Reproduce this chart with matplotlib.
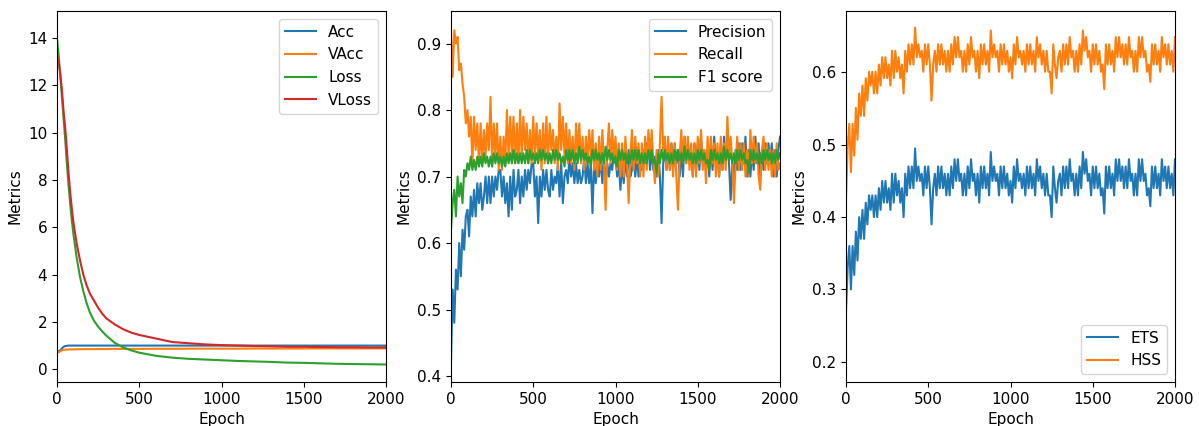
import numpy as np
import matplotlib.pyplot as plt

plt.rcParams['font.size'] = 11

# ---- panel 1: accuracy / loss ----
loss_epochs = [0, 10, 20, 30, 40, 50, 60, 70, 80, 90, 100, 120, 140, 160, 180, 200,
               225, 250, 275, 300, 350, 400, 450, 500, 600, 700, 800, 900, 1000,
               1100, 1200, 1300, 1400, 1500, 1600, 1700, 1800, 1900, 2000]
acc = [0.75, 0.76, 0.80, 0.88, 0.95, 0.98, 0.99, 1.0, 1.0, 1.0, 1.0, 1.0, 1.0, 1.0, 1.0, 1.0,
       1.0, 1.0, 1.0, 1.0, 1.0, 1.0, 1.0, 1.0, 1.0, 1.0, 1.0, 1.0, 1.0,
       1.0, 1.0, 1.0, 1.0, 1.0, 1.0, 1.0, 1.0, 1.0, 1.0]
vacc = [0.70, 0.72, 0.76, 0.80, 0.82, 0.83, 0.83, 0.835, 0.84, 0.84, 0.84, 0.845, 0.845, 0.85, 0.85, 0.85,
        0.85, 0.855, 0.855, 0.855, 0.86, 0.86, 0.86, 0.86, 0.865, 0.865, 0.87, 0.87, 0.87,
        0.87, 0.875, 0.875, 0.875, 0.875, 0.88, 0.88, 0.88, 0.88, 0.88]
loss = [14.0, 13.3, 12.4, 11.5, 10.6, 9.7, 8.7, 7.8, 7.0, 6.3, 5.7, 4.7, 3.9, 3.3, 2.8, 2.4,
        2.05, 1.8, 1.6, 1.42, 1.12, 0.93, 0.80, 0.70, 0.57, 0.49, 0.44, 0.41, 0.38,
        0.35, 0.33, 0.31, 0.28, 0.27, 0.25, 0.23, 0.22, 0.21, 0.20]
vloss = [13.3, 13.0, 12.5, 11.8, 10.9, 10.2, 9.3, 8.3, 7.5, 6.8, 6.2, 5.3, 4.6, 4.0, 3.55, 3.2,
         2.9, 2.6, 2.35, 2.15, 1.9, 1.7, 1.55, 1.45, 1.3, 1.15, 1.1, 1.05, 1.02,
         1.0, 0.98, 0.97, 0.95, 0.95, 0.94, 0.93, 0.93, 0.92, 0.92]

# ---- panel 2 / 3: noisy metrics, read every 10 epochs ----
epochs = np.arange(0, 2001, 10)
precision = [
    0.42, 0.53, 0.48, 0.56, 0.53, 0.60, 0.55, 0.62, 0.59, 0.64,
    0.65, 0.61, 0.67, 0.64, 0.68, 0.64, 0.69, 0.66, 0.69, 0.65,
    0.67, 0.70, 0.66, 0.70, 0.66, 0.70, 0.67, 0.70, 0.68, 0.71,
    0.71, 0.67, 0.70, 0.66, 0.69, 0.64, 0.70, 0.65, 0.71, 0.67,
    0.68, 0.71, 0.66, 0.70, 0.67, 0.71, 0.68, 0.71, 0.69, 0.72,
    0.72, 0.67, 0.70, 0.63, 0.70, 0.67, 0.71, 0.68, 0.71, 0.68,
    0.67, 0.71, 0.68, 0.70, 0.69, 0.72, 0.67, 0.72, 0.66, 0.70,
    0.71, 0.69, 0.73, 0.70, 0.72, 0.69, 0.72, 0.69, 0.71, 0.69,
    0.70, 0.73, 0.69, 0.72, 0.69, 0.72, 0.645, 0.72, 0.69, 0.72,
    0.70, 0.73, 0.69, 0.73, 0.69, 0.72, 0.70, 0.72, 0.71, 0.74,
    0.73, 0.70, 0.72, 0.68, 0.72, 0.69, 0.73, 0.70, 0.74, 0.70,
    0.71, 0.74, 0.70, 0.73, 0.70, 0.73, 0.71, 0.74, 0.72, 0.75,
    0.75, 0.71, 0.74, 0.71, 0.73, 0.70, 0.74, 0.70, 0.63, 0.72,
    0.74, 0.71, 0.75, 0.71, 0.75, 0.71, 0.75, 0.72, 0.74, 0.70,
    0.74, 0.70, 0.76, 0.72, 0.75, 0.72, 0.74, 0.70, 0.75, 0.71,
    0.75, 0.71, 0.76, 0.72, 0.74, 0.71, 0.74, 0.70, 0.75, 0.71,
    0.76, 0.72, 0.73, 0.70, 0.75, 0.71, 0.76, 0.72, 0.75, 0.72,
    0.665, 0.72, 0.70, 0.74, 0.71, 0.75, 0.71, 0.75, 0.72, 0.76,
    0.70, 0.74, 0.70, 0.74, 0.71, 0.76, 0.72, 0.75, 0.70, 0.74,
    0.71, 0.75, 0.72, 0.75, 0.72, 0.75, 0.70, 0.74, 0.70, 0.74,
    0.76]
recall = [
    0.92, 0.85, 0.92, 0.90, 0.91, 0.86, 0.87, 0.84, 0.82, 0.78,
    0.80, 0.76, 0.79, 0.72, 0.79, 0.74, 0.78, 0.72, 0.78, 0.72,
    0.77, 0.73, 0.78, 0.74, 0.82, 0.72, 0.78, 0.73, 0.78, 0.71,
    0.76, 0.71, 0.76, 0.72, 0.80, 0.73, 0.79, 0.73, 0.79, 0.72,
    0.78, 0.72, 0.80, 0.73, 0.79, 0.74, 0.78, 0.72, 0.77, 0.72,
    0.79, 0.73, 0.78, 0.73, 0.77, 0.71, 0.78, 0.72, 0.79, 0.72,
    0.78, 0.74, 0.77, 0.72, 0.76, 0.71, 0.81, 0.74, 0.79, 0.73,
    0.78, 0.72, 0.77, 0.72, 0.76, 0.71, 0.78, 0.73, 0.78, 0.72,
    0.76, 0.71, 0.76, 0.72, 0.77, 0.73, 0.77, 0.71, 0.75, 0.70,
    0.76, 0.71, 0.77, 0.72, 0.65, 0.74, 0.78, 0.72, 0.77, 0.73,
    0.76, 0.71, 0.75, 0.70, 0.75, 0.70, 0.76, 0.72, 0.66, 0.73,
    0.77, 0.71, 0.76, 0.72, 0.75, 0.70, 0.75, 0.70, 0.76, 0.71,
    0.77, 0.73, 0.77, 0.72, 0.69, 0.74, 0.70, 0.75, 0.82, 0.74,
    0.76, 0.71, 0.76, 0.71, 0.75, 0.70, 0.75, 0.70, 0.65, 0.73,
    0.77, 0.72, 0.76, 0.72, 0.76, 0.71, 0.75, 0.70, 0.75, 0.70,
    0.76, 0.72, 0.77, 0.71, 0.74, 0.69, 0.76, 0.71, 0.76, 0.72,
    0.75, 0.70, 0.75, 0.70, 0.76, 0.71, 0.75, 0.71, 0.79, 0.73,
    0.76, 0.72, 0.66, 0.72, 0.76, 0.71, 0.75, 0.71, 0.75, 0.70,
    0.74, 0.70, 0.77, 0.72, 0.76, 0.72, 0.75, 0.70, 0.68, 0.74,
    0.76, 0.71, 0.75, 0.71, 0.74, 0.70, 0.74, 0.70, 0.75, 0.71,
    0.72]
f1 = [
    0.62, 0.66, 0.68, 0.64, 0.70, 0.67, 0.69, 0.66, 0.71, 0.70,
    0.72, 0.71, 0.73, 0.71, 0.725, 0.71, 0.73, 0.715, 0.73, 0.715,
    0.735, 0.72, 0.73, 0.715, 0.73, 0.715, 0.735, 0.72, 0.735, 0.72,
    0.73, 0.715, 0.73, 0.715, 0.735, 0.72, 0.735, 0.72, 0.74, 0.72,
    0.735, 0.72, 0.735, 0.72, 0.735, 0.72, 0.74, 0.72, 0.74, 0.725,
    0.735, 0.72, 0.735, 0.72, 0.74, 0.725, 0.74, 0.725, 0.735, 0.72,
    0.735, 0.72, 0.74, 0.725, 0.74, 0.725, 0.735, 0.72, 0.73, 0.715,
    0.74, 0.725, 0.74, 0.725, 0.74, 0.72, 0.735, 0.72, 0.745, 0.725,
    0.74, 0.725, 0.735, 0.72, 0.73, 0.715, 0.74, 0.725, 0.74, 0.725,
    0.735, 0.72, 0.735, 0.72, 0.745, 0.725, 0.74, 0.725, 0.735, 0.72,
    0.73, 0.715, 0.74, 0.725, 0.74, 0.725, 0.735, 0.72, 0.735, 0.72,
    0.74, 0.725, 0.74, 0.725, 0.74, 0.72, 0.735, 0.72, 0.735, 0.72,
    0.74, 0.725, 0.74, 0.72, 0.725, 0.705, 0.735, 0.72, 0.74, 0.725,
    0.74, 0.725, 0.735, 0.72, 0.735, 0.72, 0.74, 0.725, 0.74, 0.725,
    0.735, 0.72, 0.745, 0.725, 0.74, 0.725, 0.735, 0.72, 0.735, 0.72,
    0.74, 0.725, 0.74, 0.725, 0.735, 0.72, 0.725, 0.71, 0.74, 0.725,
    0.74, 0.725, 0.735, 0.72, 0.735, 0.72, 0.745, 0.725, 0.74, 0.725,
    0.735, 0.72, 0.735, 0.72, 0.74, 0.725, 0.74, 0.725, 0.735, 0.72,
    0.725, 0.705, 0.74, 0.725, 0.74, 0.725, 0.735, 0.72, 0.735, 0.72,
    0.74, 0.725, 0.74, 0.725, 0.735, 0.72, 0.735, 0.72, 0.74, 0.725,
    0.735]
ets = [
    0.27, 0.33, 0.36, 0.30, 0.36, 0.32, 0.38, 0.34, 0.40, 0.37,
    0.41, 0.37, 0.42, 0.39, 0.43, 0.41, 0.43, 0.40, 0.43, 0.40,
    0.44, 0.41, 0.45, 0.42, 0.45, 0.42, 0.44, 0.41, 0.46, 0.42,
    0.46, 0.43, 0.45, 0.42, 0.44, 0.40, 0.46, 0.43, 0.47, 0.44,
    0.47, 0.44, 0.495, 0.45, 0.47, 0.45, 0.46, 0.43, 0.47, 0.44,
    0.47, 0.44, 0.39, 0.44, 0.46, 0.43, 0.47, 0.44, 0.47, 0.44,
    0.46, 0.43, 0.46, 0.43, 0.47, 0.44, 0.48, 0.45, 0.48, 0.45,
    0.46, 0.43, 0.46, 0.43, 0.47, 0.44, 0.48, 0.45, 0.46, 0.43,
    0.46, 0.42, 0.47, 0.44, 0.47, 0.44, 0.46, 0.43, 0.49, 0.45,
    0.47, 0.45, 0.46, 0.43, 0.47, 0.44, 0.47, 0.44, 0.46, 0.43,
    0.45, 0.42, 0.47, 0.44, 0.48, 0.45, 0.46, 0.44, 0.46, 0.43,
    0.47, 0.44, 0.47, 0.44, 0.46, 0.43, 0.48, 0.45, 0.47, 0.44,
    0.46, 0.43, 0.46, 0.43, 0.43, 0.40, 0.47, 0.44, 0.42, 0.45,
    0.46, 0.43, 0.47, 0.44, 0.47, 0.44, 0.48, 0.45, 0.46, 0.43,
    0.46, 0.43, 0.47, 0.44, 0.49, 0.46, 0.48, 0.45, 0.46, 0.43,
    0.47, 0.44, 0.47, 0.44, 0.46, 0.43, 0.44, 0.405, 0.47, 0.44,
    0.47, 0.44, 0.46, 0.43, 0.48, 0.45, 0.48, 0.45, 0.47, 0.44,
    0.47, 0.44, 0.48, 0.45, 0.46, 0.43, 0.46, 0.43, 0.48, 0.45,
    0.48, 0.45, 0.46, 0.43, 0.44, 0.415, 0.47, 0.44, 0.47, 0.44,
    0.46, 0.43, 0.48, 0.45, 0.47, 0.44, 0.47, 0.44, 0.46, 0.43,
    0.48]
hss = [
    0.425, 0.496, 0.529, 0.462, 0.529, 0.485, 0.551, 0.507, 0.571, 0.540,
    0.582, 0.540, 0.592, 0.561, 0.601, 0.582, 0.601, 0.571, 0.601, 0.571,
    0.611, 0.582, 0.621, 0.592, 0.621, 0.592, 0.611, 0.582, 0.630, 0.592,
    0.630, 0.601, 0.621, 0.592, 0.611, 0.571, 0.630, 0.601, 0.639, 0.611,
    0.639, 0.611, 0.662, 0.621, 0.639, 0.621, 0.630, 0.601, 0.639, 0.611,
    0.639, 0.611, 0.561, 0.611, 0.630, 0.601, 0.639, 0.611, 0.639, 0.611,
    0.630, 0.601, 0.630, 0.601, 0.639, 0.611, 0.649, 0.621, 0.649, 0.621,
    0.630, 0.601, 0.630, 0.601, 0.639, 0.611, 0.649, 0.621, 0.630, 0.601,
    0.630, 0.592, 0.639, 0.611, 0.639, 0.611, 0.630, 0.601, 0.658, 0.621,
    0.639, 0.621, 0.630, 0.601, 0.639, 0.611, 0.639, 0.611, 0.630, 0.601,
    0.621, 0.592, 0.639, 0.611, 0.649, 0.621, 0.630, 0.611, 0.630, 0.601,
    0.639, 0.611, 0.639, 0.611, 0.630, 0.601, 0.649, 0.621, 0.639, 0.611,
    0.630, 0.601, 0.630, 0.601, 0.601, 0.571, 0.639, 0.611, 0.592, 0.621,
    0.630, 0.601, 0.639, 0.611, 0.639, 0.611, 0.649, 0.621, 0.630, 0.601,
    0.630, 0.601, 0.639, 0.611, 0.658, 0.630, 0.649, 0.621, 0.630, 0.601,
    0.639, 0.611, 0.639, 0.611, 0.630, 0.601, 0.611, 0.577, 0.639, 0.611,
    0.639, 0.611, 0.630, 0.601, 0.649, 0.621, 0.649, 0.621, 0.639, 0.611,
    0.639, 0.611, 0.649, 0.621, 0.630, 0.601, 0.630, 0.601, 0.649, 0.621,
    0.649, 0.621, 0.630, 0.601, 0.611, 0.587, 0.639, 0.611, 0.639, 0.611,
    0.630, 0.601, 0.649, 0.621, 0.639, 0.611, 0.639, 0.611, 0.630, 0.601,
    0.649]

fig = plt.figure(figsize=(11.99, 4.26), dpi=100)
w, h, b = 329 / 1199, 371 / 426, 1 - 382 / 426
ax1 = fig.add_axes([57 / 1199, b, w, h])
ax2 = fig.add_axes([451 / 1199, b, w, h])
ax3 = fig.add_axes([846 / 1199, b, w, h])

ax1.plot(loss_epochs, acc, label='Acc')
ax1.plot(loss_epochs, vacc, label='VAcc')
ax1.plot(loss_epochs, loss, label='Loss')
ax1.plot(loss_epochs, vloss, label='VLoss')
ax1.set_ylim(-0.54, 15.15)
ax1.legend(loc='upper right')

ax2.plot(epochs, precision, label='Precision')
ax2.plot(epochs, recall, label='Recall')
ax2.plot(epochs, f1, label='F1 score')
ax2.set_ylim(0.391, 0.949)
ax2.legend(loc='upper right')

ax3.plot(epochs, ets, label='ETS')
ax3.plot(epochs, hss, label='HSS')
ax3.set_ylim(0.172, 0.685)
ax3.set_yticks([0.2, 0.3, 0.4, 0.5, 0.6])
ax3.legend(loc='lower right')

for ax in (ax1, ax2, ax3):
    ax.set_xlim(0, 2000)
    ax.set_xlabel('Epoch')
    ax.set_ylabel('Metrics')

fig.savefig('out.png', dpi=100)
